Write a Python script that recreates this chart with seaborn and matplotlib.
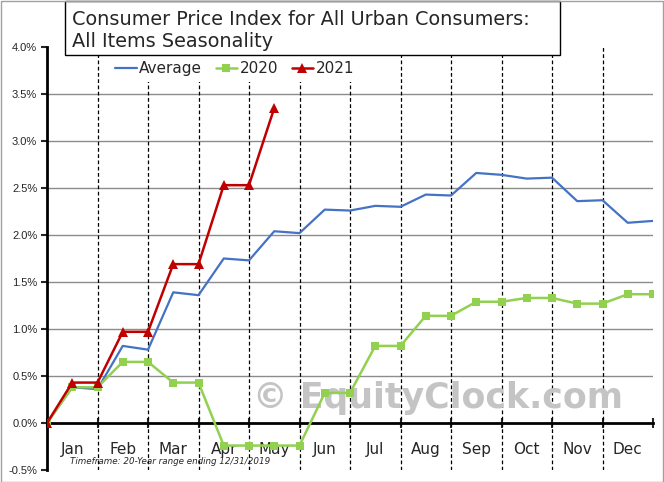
import numpy as np
import matplotlib
matplotlib.use("Agg")
import matplotlib.pyplot as plt
import seaborn as sns
from matplotlib.patches import Rectangle

# half-month steps along the year (0 = start of Jan, 12 = end of Dec)
steps = np.arange(0, 12.5, 0.5)
months = ['Jan', 'Feb', 'Mar', 'Apr', 'May', 'Jun',
          'Jul', 'Aug', 'Sep', 'Oct', 'Nov', 'Dec']
y_ticks = [-0.5, 0.0, 0.5, 1.0, 1.5, 2.0, 2.5, 3.0, 3.5, 4.0]

avg = [0.00, 0.38, 0.36, 0.82, 0.78, 1.39, 1.36, 1.75, 1.73, 2.04, 2.02, 2.27, 2.26,
       2.31, 2.30, 2.43, 2.42, 2.66, 2.64, 2.60, 2.61, 2.36, 2.37, 2.13, 2.15]
y2020 = [0.00, 0.38, 0.38, 0.65, 0.65, 0.43, 0.43, -0.24, -0.24, -0.24, -0.24, 0.32, 0.32,
         0.82, 0.82, 1.14, 1.14, 1.29, 1.29, 1.33, 1.33, 1.27, 1.27, 1.37, 1.37]
y2021 = [0.00, 0.43, 0.43, 0.97, 0.97, 1.69, 1.69, 2.53, 2.53, 3.35]

sns.set_style('white')
plt.rcParams['font.family'] = ['DejaVu Sans']

W, H = 664, 482
fig = plt.figure(figsize=(W / 100, H / 100), dpi=100)
ax = fig.add_axes([47 / W, 1 - 470 / H, (653 - 47) / W, (470 - 47) / H])

# gridlines and month separators
for v in [0.5, 1.0, 1.5, 2.0, 2.5, 3.0, 3.5]:
    ax.axhline(v, color='#8c8c8c', lw=1.0, zorder=1)
for m in range(1, 12):
    ax.axvline(m, color='black', lw=0.9, ls=(0, (3, 2)), zorder=1)

# watermark
ax.text(7.75, 0.27, '\u00a9 EquityClock.com', ha='center', va='center',
        fontsize=25, fontweight='bold', color='#c4c4c4', zorder=1.5)

sns.lineplot(x=steps, y=avg, ax=ax, color='#4472C4', lw=1.6, label='Average',
             sort=False, zorder=3)
sns.lineplot(x=steps, y=y2020, ax=ax, color='#92D050', lw=1.8, marker='s',
             markersize=6, markeredgewidth=0, label='2020', sort=False, zorder=4)
sns.lineplot(x=steps[:len(y2021)], y=y2021, ax=ax, color='#C00000', lw=1.8,
             marker='^', markersize=7, markeredgewidth=0, label='2021', sort=False, zorder=5)

ax.set_xlim(0, 12)
ax.set_ylim(-0.5, 4.0)

# axes styling
for s in ['top', 'right']:
    ax.spines[s].set_visible(False)
ax.spines['left'].set_linewidth(2)
ax.spines['left'].set_color('black')
ax.spines['bottom'].set_position(('data', 0))
ax.spines['bottom'].set_linewidth(2)
ax.spines['bottom'].set_color('black')

ax.set_yticks(y_ticks)
ax.set_yticklabels([f'{v:.1f}%' for v in y_ticks], fontsize=8, family='Liberation Sans')
ax.tick_params(axis='y', direction='out', length=4, width=1.5, pad=3, left=True)

ax.set_xticks(range(13))
ax.set_xticklabels([])
ax.tick_params(axis='x', which='major', direction='inout', length=7, width=1.5, bottom=True)
ax.set_xticks(steps[1::2], minor=True)
ax.set_xticklabels(months, minor=True, fontsize=11)
ax.tick_params(axis='x', which='minor', length=0, pad=14)
ax.set_xlabel('')
ax.set_ylabel('')

leg = ax.legend(loc='upper left', bbox_to_anchor=(110 / W, 1 - 56 / H),
                bbox_transform=fig.transFigure, ncol=3, fontsize=11,
                frameon=True, framealpha=1, facecolor='white', edgecolor='none',
                fancybox=False, handlelength=1.4, handletextpad=0.15,
                columnspacing=0.9, borderpad=0.35, borderaxespad=0)
leg.set_zorder(6)

# timeframe note
fig.text(70 / W, 1 - 461 / H, 'Timeframe: 20-Year range ending 12/31/2019',
         fontsize=6.3, style='italic', va='center', ha='left')

# title box
fig.patches.append(Rectangle((65 / W, 1 - 55 / H), (560 - 65) / W, 54 / H,
                             transform=fig.transFigure, facecolor='white',
                             edgecolor='black', lw=1, zorder=10))
fig.text(72 / W, 1 - 25 / H, 'Consumer Price Index for All Urban Consumers:',
         fontsize=13.9, va='baseline', ha='left', zorder=11)
fig.text(72 / W, 1 - 47 / H, 'All Items Seasonality',
         fontsize=13.9, va='baseline', ha='left', zorder=11)

# outer border
fig.patches.append(Rectangle((0.5 / W, 0.5 / H), (W - 1.5) / W, (H - 1.5) / H,
                             transform=fig.transFigure, fill=False,
                             edgecolor='#a0a0a0', lw=1, zorder=12))

fig.savefig('out.png', dpi=100)
